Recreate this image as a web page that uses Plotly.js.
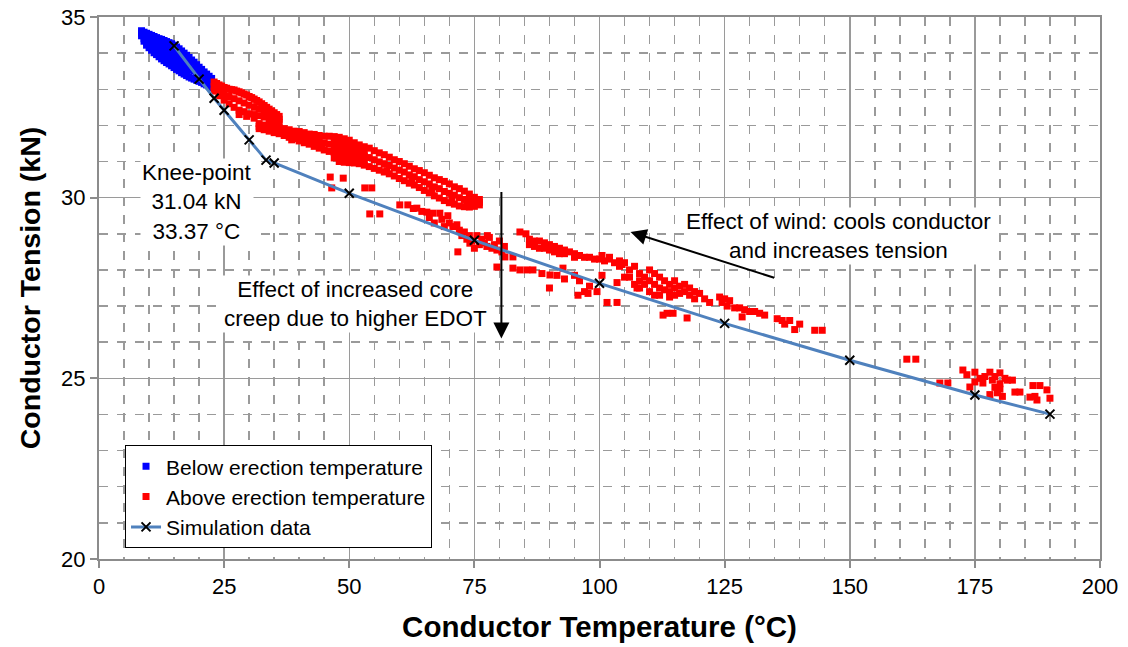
<!DOCTYPE html>
<html>
<head>
<meta charset="utf-8">
<script src="https://cdn.plot.ly/plotly-3.0.1.min.js"></script>
<style>html,body{margin:0;padding:0;background:#fff;}#chart{width:1128px;height:647px;}</style>
</head>
<body>
<div id="chart"></div>
<script>
// Below erection temperature (blue)
const blueX = [8.5,8.5,8.5, 9,9,9,9, 9.5,9.5,9.5,9.5,9.5, 10,10,10,10,10, 10.5,10.5,10.5,10.5,10.5, 11,11,11,11,11,
  11.5,11.5,11.5,11.5,11.5, 12,12,12,12,12, 12.5,12.5,12.5,12.5,12.5, 13,13,13,13,13, 13.5,13.5,13.5,13.5,13.5,
  14,14,14,14,14, 14.5,14.5,14.5,14.5,14.5, 15,15,15,15,15, 15.5,15.5,15.5,15.5,15.5, 16,16,16,16,16, 16.5,16.5,16.5,16.5,16.5,
  17,17,17,17, 17.5,17.5,17.5,17.5, 18,18,18,18, 18.5,18.5,18.5, 19,19,19, 19.5,19.5,19.5, 20,20,20, 20.5,20.5,20.5,
  21,21,21, 21.5,21.5,21.5, 22,22,22, 22.5,22.5,22.5];
const blueY = [34.62,34.55,34.48, 34.58,34.49,34.4,34.33, 34.55,34.47,34.39,34.3,34.22, 34.52,34.43,34.34,34.24,34.15,
  34.49,34.39,34.29,34.18,34.08, 34.46,34.36,34.24,34.12,34.01, 34.43,34.31,34.19,34.07,33.96, 34.4,34.28,34.15,34.02,33.9,
  34.38,34.25,34.11,33.97,33.84, 34.35,34.22,34.08,33.93,33.79, 34.32,34.18,34.03,33.88,33.74, 34.29,34.14,33.99,33.84,33.7,
  34.26,34.11,33.95,33.8,33.65, 34.22,34.06,33.91,33.75,33.6, 34.17,34.01,33.86,33.7,33.55, 34.12,33.96,33.81,33.66,33.51,
  34.06,33.91,33.76,33.61,33.46, 34.0,33.83,33.66,33.42, 33.94,33.77,33.6,33.38, 33.88,33.71,33.53,33.34, 33.81,33.57,33.31, 33.75,33.52,33.28,
  33.68,33.47,33.25, 33.61,33.42,33.22, 33.55,33.37,33.19, 33.48,33.32,33.15, 33.42,33.27,33.12, 33.36,33.22,33.09, 33.3,33.17,33.05];

// Above erection temperature (red): first strip just above erection temperature
const redStripX = [23,23,23, 24,24,24, 25,25,25, 26,26,26, 27,27,27, 28,28,28, 29,29,29, 30,30,30, 31,31,31,
  32,32,32, 33,33,33, 34,34,34, 35,35,35, 36,36,36,
  23.5,24.5,25.5,26.5,27.5,28.5,29.5,30.5,31.5,32.5,33.5,34.5,35.5, 28,29.5,31];
const redStripY = [33.2,33.08,32.95, 33.12,32.97,32.82, 33.05,32.88,32.7, 33.0,32.8,32.6, 32.98,32.74,32.5,
  32.93,32.68,32.42, 32.87,32.62,32.38, 32.8,32.56,32.32, 32.73,32.5,32.3, 32.65,32.46,32.27, 32.55,32.4,32.23,
  32.45,32.32,32.18, 32.35,32.25,32.12, 32.25,32.17,32.08,
  33.16,33.09,33.03,32.99,32.95,32.9,32.84,32.77,32.69,32.6,32.5,32.4,32.3, 32.3,32.25,32.2];

// Main dense band 32-76 °C
const redBandX = [32,33,34,35,36,37,38,39,40,41,42,43,44,45,46,47,48,49,50,51,52,53,54,55,56,57,58,59,60,61,62,63,64,65,66,67,68,69,70,71,72,73,74,75,76,
  32,33,34,35,36,37,38,39,40,41,42,43,44,45,46,47,48,49,50,51,52,53,54,55,56,57,58,59,60,61,62,63,64,65,66,67,68,69,70,71,72,73,74,75,76,
  32,33,34,35,36,37,38,39,40,41,42,43,44,45,46,47,48,49,50,51,52,53,54,55,56,57,58,59,60,61,62,63,64,65,66,67,68,69,70,71,72,73,74,75,76,
  47,48,49,50,51,52,53, 47,48,49,50,51,52,53, 38.5,41.5,44.5,57.5,62.5,66.5,70.5,73.5];
const redBandY = [32.05,32.01,32.0,31.95,31.93,31.91,31.88,31.84,31.83,31.8,31.76,31.75,31.72,31.7,31.7,31.69,31.67,31.63,31.59,31.52,31.46,31.41,31.37,31.3,31.24,31.19,31.12,31.05,31.0,30.94,30.87,30.8,30.75,30.69,30.62,30.55,30.5,30.45,30.38,30.3,30.25,30.18,30.1,30.01,29.95,
  31.97,31.95,31.91,31.88,31.85,31.8,31.78,31.75,31.7,31.65,31.62,31.59,31.55,31.51,31.48,31.41,31.34,31.3,31.28,31.25,31.2,31.15,31.11,31.05,30.99,30.94,30.89,30.82,30.76,30.71,30.63,30.58,30.5,30.44,30.38,30.3,30.25,30.17,30.12,30.07,30.0,29.95,29.92,29.9,29.87,
  31.91,31.88,31.84,31.8,31.77,31.72,31.67,31.63,31.57,31.52,31.48,31.42,31.37,31.32,31.28,31.1,31.0,30.98,30.97,30.96,30.94,30.9,30.86,30.81,30.76,30.71,30.66,30.6,30.53,30.47,30.4,30.35,30.28,30.2,30.13,30.05,29.99,29.92,29.86,29.82,29.77,29.75,29.74,29.76,29.8,
  31.55,31.5,31.47,31.43,31.38,31.34,31.28, 31.25,31.17,31.15,31.13,31.1,31.08,31.02, 31.6,31.55,31.45,30.75,30.5,30.2,29.95,29.78];

// Scattered points near the simulation line 46-87 °C
const redMidX = [46.2,48.8,46.5,53.1,54.5,54.1,56.1,60.1,61.7,62.8,63.5,64.5,65.5,66.7,68.1,69.7,68.5,70,70.7,71.5,72,72.5,73,73.5,74,74.1,74.5,75.5,76,76.5,71.7,
  77,77.5,78,78.5,79,79.5,80,80.5,81,79.5,81.1,82.7,82.7,84.1,85.5,86.7,84.1,85.3,67,66,69,75,77.6];
const redMidY = [30.57,30.54,30.27,30.27,30.27,29.55,29.55,29.8,29.8,29.7,29.71,29.62,29.6,29.57,29.57,29.5,29.4,29.3,29.2,29.25,29.1,28.95,29.05,28.85,28.95,28.74,28.8,28.95,28.7,28.85,28.5,
  28.75,28.65,28.9,28.6,28.7,28.55,28.8,28.5,28.65,28.08,28.36,28.36,28.05,28.0,28.0,28.0,29.05,29.0,29.3,29.45,29.2,28.6,28.95];

// Upper band 86-104 °C and lower scatter
const redUpperX = [86,87,88,89,90,91,92,93,94,88,90,92,95,96,97,98,99,100,101,102,103,104,86,87,89,91,93,95,
  88.5,90,91.5,93,95,96,97,98,99.5,100.5,101.5,103.5,103.5,105,92.7,90.1,95.7,97.7];
const redUpperY = [28.85,28.8,28.8,28.75,28.7,28.65,28.6,28.55,28.5,28.6,28.55,28.45,28.45,28.4,28.35,28.35,28.3,28.3,28.25,28.3,28.2,28.25,28.7,28.65,28.6,28.5,28.45,28.35,
  27.9,27.5,27.85,27.75,27.85,27.7,27.4,27.55,27.4,27.85,27.1,27.1,27.65,27.8,28.05,27.86,27.3,27.35];

// Cluster 104-145 °C
const redClusterX = [104,105,106,106,107,107,108,108,108,109,109,110,110,110,111,111,111,112,112,112,113,113,114,114,114,115,115,115,116,116,117,117,118,118,119,119,120,121,122,
  113.5,114.7,117.5,112.7,107.5,100.5,102,104.5,
  124,124.5,125,125.5,126,127,128,128.5,129,130,131,132,133,135.5,136.5,137,138,139,140,143,144.5];
const redClusterY = [28.1,28.2,28.0,27.8,28.1,27.6,27.9,27.7,27.5,27.8,27.6,28.0,27.7,27.4,27.9,27.6,27.3,27.8,27.5,27.3,27.7,27.45,27.6,27.4,27.25,27.7,27.5,27.3,27.55,27.35,27.6,27.4,27.5,27.3,27.4,27.2,27.35,27.2,27.1,
  26.8,26.8,26.67,26.75,27.5,28.4,28.35,28.15,
  27.25,27.1,27.2,27.0,27.15,26.95,26.95,26.7,26.9,26.85,26.85,26.8,26.75,26.65,26.6,26.5,26.6,26.35,26.5,26.33,26.33];

// Tail 160-190 °C
const redTailX = [161.4,163.2,168,169.6,172.6,173.4,174,175,175,176.6,176,178,178.5,179,179,179.5,180,180,180.5,181,181.5,182.5,183,184,186,187,186.6,188,189.4,190,187.4,177,178,180];
const redTailY = [25.53,25.53,24.87,24.87,25.23,25.1,24.76,25.17,24.9,24.87,25.0,25.17,24.95,24.75,25.05,24.6,25.15,24.85,24.5,25.0,24.95,24.95,24.62,24.62,24.48,24.5,24.8,24.8,24.68,24.45,24.4,25.05,24.55,24.7];

// Simulation data
const simX = [15,20,23,25,30,33.37,35,50,75,100,125,150,175,190];
const simY = [34.2,33.28,32.75,32.42,31.6,31.04,30.96,30.12,28.82,27.63,26.52,25.5,24.54,24.01];

const redX = [].concat(redStripX, redBandX, redMidX, redUpperX, redClusterX, redTailX);
const redY = [].concat(redStripY, redBandY, redMidY, redUpperY, redClusterY, redTailY);

const FONT = 'Liberation Sans, Arial, sans-serif';

const traces = [
  {x: blueX, y: blueY, type: 'scatter', mode: 'markers', name: 'Below erection temperature',
   marker: {symbol: 'square', color: '#0000ff', size: 7}},
  {x: redX, y: redY, type: 'scatter', mode: 'markers', name: 'Above erection temperature',
   marker: {symbol: 'square', color: '#ff0000', size: 7}},
  {x: simX, y: simY, type: 'scatter', mode: 'lines+markers', name: 'Simulation data',
   line: {color: '#4f81bd', width: 3},
   marker: {symbol: 'x-thin', size: 9, color: '#000', line: {color: '#000', width: 2}}}
];

const axisCommon = {
  showline: true, mirror: true, linecolor: '#8c8c8c', linewidth: 2,
  showgrid: true, gridcolor: '#9a9a9a', gridwidth: 1.5,
  ticks: 'outside', ticklen: 7, tickcolor: '#8c8c8c', tickwidth: 2,
  tickfont: {family: FONT, size: 22, color: '#000'},
  zeroline: false
};

const layout = {
  width: 1128, height: 647,
  margin: {l: 99, r: 28, t: 17, b: 88},
  paper_bgcolor: '#fff', plot_bgcolor: '#fff',
  showlegend: true,
  legend: {x: 0.026, y: 0.02, xanchor: 'left', yanchor: 'bottom',
           bgcolor: '#fff', bordercolor: '#000', borderwidth: 1,
           font: {family: FONT, size: 21, color: '#000'}, tracegroupgap: 0, itemwidth: 30},
  xaxis: Object.assign({}, axisCommon, {
    range: [0, 200], dtick: 25, tick0: 0,
    minor: {dtick: 5, showgrid: true, gridcolor: '#9a9a9a', griddash: 'dash', gridwidth: 1.5, ticks: ''},
    title: {text: '<b>Conductor Temperature (°C)</b>', font: {family: FONT, size: 29.5, color: '#000'}, standoff: 18}
  }),
  yaxis: Object.assign({}, axisCommon, {
    range: [20, 35], dtick: 5, tick0: 20,
    minor: {dtick: 1, showgrid: true, gridcolor: '#9a9a9a', griddash: 'dash', gridwidth: 1.5, ticks: ''},
    title: {text: '<b>Conductor Tension (kN)</b>', font: {family: FONT, size: 28.5, color: '#000'}, standoff: 12}
  }),
  annotations: [
    {x: 19.6, y: 29.88, xref: 'x', yref: 'y', showarrow: false, align: 'center',
     text: 'Knee-point<br>31.04 kN<br>33.37 °C', font: {family: FONT, size: 22.5, color: '#000'}, bgcolor: '#fff'},
    {x: 147.8, y: 28.94, xref: 'x', yref: 'y', showarrow: false, align: 'center',
     text: 'Effect of wind: cools conductor<br>and increases tension', font: {family: FONT, size: 22.5, color: '#000'}, bgcolor: '#fff'},
    {x: 51.3, y: 27.05, xref: 'x', yref: 'y', showarrow: false, align: 'center',
     text: 'Effect of increased core<br>creep due to higher EDOT', font: {family: FONT, size: 22.5, color: '#000'}, bgcolor: '#fff'},
    {x: 80.4, y: 26.1, ax: 80.4, ay: 30.2, xref: 'x', yref: 'y', axref: 'x', ayref: 'y',
     text: '', showarrow: true, arrowhead: 2, arrowsize: 1.6, arrowwidth: 2, arrowcolor: '#000'},
    {x: 106.2, y: 29.05, ax: 135.2, ay: 27.77, xref: 'x', yref: 'y', axref: 'x', ayref: 'y',
     text: '', showarrow: true, arrowhead: 2, arrowsize: 1.6, arrowwidth: 2, arrowcolor: '#000'}
  ]
};

Plotly.newPlot('chart', traces, layout, {displayModeBar: false, staticPlot: true});
</script>
</body>
</html>
